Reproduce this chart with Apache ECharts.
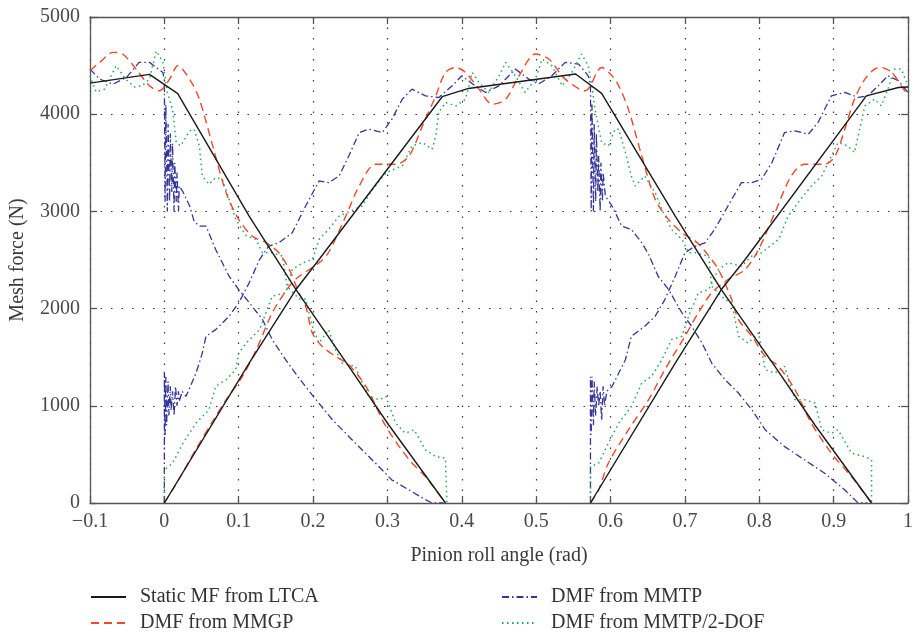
<!DOCTYPE html>
<html>
<head>
<meta charset="utf-8">
<script src="https://cdn.jsdelivr.net/npm/echarts@6/dist/echarts.min.js"></script>
<style>
html,body{margin:0;padding:0;background:#fff;}
#chart{width:916px;height:633px;}
</style>
</head>
<body>
<div id="chart"></div>
<script>
// ---------- data (x: pinion roll angle rad, y: mesh force N) ----------
const xTicks = [-0.1, 0, 0.1, 0.2, 0.3, 0.4, 0.5, 0.6, 0.7, 0.8, 0.9, 1];
const yTicks = [0, 1000, 2000, 3000, 4000, 5000];

const seriesNames = ['Static MF from LTCA', 'DMF from MMGP', 'DMF from MMTP', 'DMF from MMTP/2-DOF'];

// Static MF from LTCA (three tooth segments)
const staticA = [[-0.1,4320],[-0.02,4410],[0.018,4212],[0.114,2952],[0.177,2196],[0.248,1405],[0.302,800],[0.378,0]];
const staticB = [[0,0],[0.114,1440],[0.177,2196],[0.208,2505],[0.3736,4180],[0.409,4265],[0.553,4413],[0.588,4214],[0.687,2952],[0.749,2196],[0.821,1405],[0.875,800],[0.951,0]];
const staticC = [[0.573,0],[0.687,1440],[0.749,2196],[0.781,2505],[0.944,4189],[0.987,4275],[1.0,4280]];

// DMF from MMGP
const mmgpA = [[-0.1,4447],[-0.087,4533],[-0.069,4636],[-0.056,4619],[-0.038,4464],[-0.020,4292],[-0.007,4241],[0.007,4361],[0.018,4499],[0.034,4361],[0.047,4155],[0.065,3674],[0.083,3193],[0.1,2918],[0.118,2746],[0.137,2677],[0.154,2574],[0.168,2402],[0.181,2162],[0.190,2024],[0.199,1750],[0.212,1612],[0.230,1509],[0.248,1423],[0.271,1199],[0.298,787],[0.329,446],[0.351,271],[0.378,0]];
const mmgpB = [[0,0],[0.02,250],[0.043,560],[0.065,840],[0.083,1062],[0.105,1302],[0.125,1600],[0.145,1956],[0.168,2230],[0.181,2330],[0.208,2471],[0.221,2580],[0.244,2952],[0.262,3261],[0.284,3485],[0.311,3485],[0.329,3570],[0.347,3880],[0.365,4189],[0.378,4430],[0.392,4481],[0.405,4430],[0.423,4258],[0.441,4103],[0.459,4155],[0.477,4395],[0.499,4619],[0.517,4567],[0.539,4361],[0.566,4241],[0.588,4481],[0.602,4395],[0.611,4292],[0.624,4052],[0.642,3570],[0.660,3124],[0.678,2918],[0.696,2780],[0.714,2694],[0.727,2590],[0.745,2402],[0.763,2093],[0.772,1887],[0.790,1715],[0.808,1509],[0.826,1405],[0.848,1165],[0.870,822],[0.897,512],[0.924,271],[0.951,0]];
const mmgpC = [[0.573,0],[0.584,134],[0.597,409],[0.624,753],[0.651,1062],[0.673,1371],[0.700,1715],[0.718,1956],[0.736,2162],[0.758,2299],[0.781,2402],[0.799,2608],[0.821,2987],[0.843,3364],[0.861,3485],[0.888,3485],[0.902,3570],[0.915,3846],[0.928,4155],[0.942,4361],[0.955,4464],[0.964,4481],[0.978,4430],[0.991,4292],[1.0,4189]];

// DMF from MMTP
const mmtpA = [[-0.1,4464],[-0.087,4361],[-0.069,4310],[-0.051,4378],[-0.034,4533],[-0.020,4533],[-0.002,4430],[0.0,4350],[0.001,3100],[0.002,4100],[0.004,3000],[0.005,3900],[0.007,3100],[0.008,3800],[0.010,3200],[0.011,3700],[0.013,3000],[0.014,3500],[0.016,3100],[0.017,3400],[0.019,3000],[0.020,3261],[0.025,3200],[0.034,3055],[0.040,2900],[0.047,2849],[0.056,2849],[0.069,2608],[0.087,2333],[0.1,2196],[0.118,2024],[0.132,1887],[0.145,1681],[0.163,1474],[0.181,1285],[0.199,1110],[0.226,856],[0.257,615],[0.284,409],[0.306,237],[0.329,134],[0.351,34],[0.360,0],[0.375,0]];
const mmtpB = [[0,0],[0,1350],[0.001,700],[0.002,1300],[0.003,800],[0.005,1250],[0.006,900],[0.008,1200],[0.009,950],[0.011,1150],[0.013,900],[0.015,1200],[0.017,1000],[0.019,1150],[0.020,1044],[0.024,1150],[0.029,1096],[0.035,1200],[0.0425,1337],[0.047,1440],[0.051,1543],[0.056,1715],[0.069,1784],[0.087,1921],[0.1,2059],[0.114,2265],[0.128,2505],[0.140,2640],[0.154,2677],[0.172,2780],[0.190,3055],[0.208,3313],[0.221,3296],[0.235,3364],[0.248,3570],[0.262,3811],[0.275,3846],[0.293,3811],[0.306,3949],[0.320,4155],[0.333,4258],[0.351,4189],[0.369,4172],[0.387,4292],[0.400,4395],[0.418,4292],[0.432,4224],[0.450,4292],[0.472,4464],[0.490,4361],[0.503,4310],[0.521,4395],[0.539,4533],[0.557,4516],[0.570,4395],[0.573,4300],[0.574,3000],[0.575,4100],[0.577,3000],[0.578,3900],[0.580,3100],[0.581,3800],[0.583,3200],[0.584,3570],[0.586,3000],[0.587,3500],[0.589,3100],[0.590,3400],[0.593,3158],[0.602,3055],[0.615,2849],[0.628,2815],[0.642,2677],[0.651,2560],[0.664,2333],[0.678,2196],[0.696,1956],[0.709,1818],[0.723,1646],[0.736,1440],[0.754,1268],[0.772,1131],[0.790,959],[0.808,753],[0.834,580],[0.861,443],[0.888,306],[0.915,134],[0.933,0],[0.945,0]];
const mmtpC = [[0.573,0],[0.573,1300],[0.574,700],[0.575,1300],[0.577,800],[0.578,1250],[0.580,900],[0.582,1200],[0.584,993],[0.586,1150],[0.588,850],[0.590,1200],[0.592,1000],[0.595,1150],[0.602,1199],[0.611,1337],[0.620,1474],[0.628,1715],[0.646,1818],[0.660,1921],[0.673,2093],[0.687,2333],[0.700,2574],[0.713,2640],[0.727,2677],[0.740,2815],[0.763,3124],[0.776,3296],[0.790,3296],[0.803,3330],[0.817,3502],[0.834,3811],[0.848,3828],[0.866,3794],[0.879,3915],[0.897,4189],[0.915,4224],[0.933,4172],[0.946,4189],[0.960,4292],[0.973,4395],[0.987,4344],[1.0,4224]];

// DMF from MMTP/2-DOF
const dofA = [[-0.1,4395],[-0.092,4230],[-0.080,4260],[-0.065,4499],[-0.052,4360],[-0.040,4280],[-0.030,4292],[-0.020,4361],[-0.011,4650],[-0.002,4540],[0.004,4224],[0.011,4052],[0.016,3708],[0.022,3674],[0.034,3828],[0.040,3846],[0.047,3674],[0.051,3364],[0.060,3279],[0.069,3348],[0.078,3330],[0.087,3124],[0.096,2918],[0.110,2750],[0.123,2712],[0.132,2574],[0.145,2574],[0.159,2540],[0.165,2230],[0.181,2100],[0.190,2100],[0.199,1818],[0.208,1646],[0.221,1784],[0.230,1577],[0.239,1440],[0.257,1405],[0.262,1302],[0.275,1096],[0.289,1062],[0.298,1096],[0.311,822],[0.324,718],[0.336,753],[0.351,546],[0.365,477],[0.378,460],[0.380,0]];
const dofB = [[0,0],[0,340],[0.011,409],[0.025,615],[0.0425,822],[0.060,959],[0.069,1199],[0.083,1268],[0.096,1371],[0.100,1543],[0.110,1646],[0.128,1784],[0.145,2127],[0.163,2162],[0.172,2402],[0.186,2471],[0.199,2505],[0.208,2712],[0.221,2815],[0.235,2952],[0.266,3055],[0.280,3227],[0.298,3399],[0.320,3468],[0.333,3674],[0.347,3708],[0.360,3639],[0.365,3777],[0.369,4018],[0.378,4121],[0.392,4086],[0.405,4155],[0.414,4430],[0.423,4327],[0.436,4224],[0.450,4395],[0.459,4533],[0.472,4395],[0.485,4224],[0.499,4361],[0.508,4567],[0.521,4499],[0.535,4292],[0.548,4430],[0.561,4619],[0.570,4499],[0.575,4292],[0.579,4052],[0.588,3708],[0.597,3674],[0.606,3846],[0.611,3846],[0.620,3605],[0.628,3364],[0.633,3261],[0.646,3364],[0.660,3193],[0.669,3021],[0.682,2815],[0.696,2712],[0.705,2574],[0.714,2574],[0.732,2540],[0.736,2230],[0.754,2093],[0.763,2059],[0.772,1715],[0.785,1646],[0.799,1750],[0.808,1371],[0.821,1337],[0.834,1405],[0.848,1062],[0.861,1062],[0.875,1028],[0.884,753],[0.897,718],[0.906,753],[0.924,512],[0.942,477],[0.951,443],[0.951,0]];
const dofC = [[0.573,0],[0.573,374],[0.584,409],[0.597,615],[0.611,822],[0.628,993],[0.642,1234],[0.655,1302],[0.669,1474],[0.682,1681],[0.696,1715],[0.705,1921],[0.718,2162],[0.732,2196],[0.745,2402],[0.758,2471],[0.776,2437],[0.790,2540],[0.803,2574],[0.826,2712],[0.839,2952],[0.852,3090],[0.870,3261],[0.884,3364],[0.897,3570],[0.906,3708],[0.919,3674],[0.928,3605],[0.937,3915],[0.942,4086],[0.955,4155],[0.964,4086],[0.973,4258],[0.982,4464],[0.991,4464],[1.0,4292]];

// ---------- styles ----------
const FONT = 'Liberation Serif, DejaVu Serif, serif';
const styles = {
  'Static MF from LTCA': {color: '#1a1a1a', type: 'solid', width: 1.4},
  'DMF from MMGP': {color: '#f04828', type: [8, 5], width: 1.4},
  'DMF from MMTP': {color: '#35359c', type: [7, 3, 1.5, 3], width: 1.3},
  'DMF from MMTP/2-DOF': {color: '#1fa85a', type: [1.5, 3.5], width: 1.5}
};

function mk(name, data, smooth) {
  const s = styles[name];
  return {
    name: name, type: 'line', data: data, symbol: 'none', showSymbol: false,
    smooth: smooth || false, xAxisIndex: 0, yAxisIndex: 0,
    lineStyle: {color: s.color, type: s.type, width: s.width},
    itemStyle: {color: s.color},
    emphasis: {disabled: true}, silent: true
  };
}

const fmtX = v => {
  const r = Math.round(v * 10) / 10;
  return (r < 0 ? '\u2212' : '') + String(Math.abs(r));
};

const axisLineStyle = {color: '#555', width: 1.3};
const gridDots = {color: '#333', type: [1.5, 9], width: 1.2};

const legendBase = {
  orient: 'vertical', top: 586, height: 60, padding: 0,
  itemWidth: 35, itemHeight: 14, itemGap: 4,
  textStyle: {fontFamily: FONT, fontSize: 20, lineHeight: 22, color: '#333', padding: [0, 0, 0, 9]},
  itemStyle: {opacity: 0, color: 'transparent', borderWidth: 0},
  selectedMode: false
};

const chart = echarts.init(document.getElementById('chart'), null, {renderer: 'canvas'});
chart.setOption({
  animation: false,
  backgroundColor: '#fff',
  grid: {left: 90, right: 5, top: 17, bottom: 130, containLabel: false},
  xAxis: [{
    type: 'value', min: xTicks[0], max: xTicks[xTicks.length - 1], interval: 0.1,
    position: 'bottom',
    name: 'Pinion roll angle (rad)', nameLocation: 'middle', nameGap: 43,
    nameTextStyle: {fontFamily: FONT, fontSize: 20, color: '#3a3a3a'},
    axisLine: {show: true, onZero: false, lineStyle: axisLineStyle},
    axisTick: {show: true, inside: true, length: 7, lineStyle: axisLineStyle},
    axisLabel: {fontFamily: FONT, fontSize: 20, color: '#4a4a4a', margin: 9, formatter: fmtX, showMinLabel: true, showMaxLabel: true},
    splitLine: {show: true, lineStyle: gridDots}
  }, {
    type: 'value', min: xTicks[0], max: xTicks[xTicks.length - 1], interval: 0.1,
    position: 'top',
    axisLine: {show: true, onZero: false, lineStyle: axisLineStyle},
    axisTick: {show: true, inside: true, length: 7, lineStyle: axisLineStyle},
    axisLabel: {show: false}, splitLine: {show: false}
  }],
  yAxis: [{
    type: 'value', min: yTicks[0], max: yTicks[yTicks.length - 1], interval: 1000,
    position: 'left',
    name: 'Mesh force (N)', nameLocation: 'middle', nameGap: 62,
    nameTextStyle: {fontFamily: FONT, fontSize: 20, color: '#3a3a3a'},
    axisLine: {show: true, onZero: false, lineStyle: axisLineStyle},
    axisTick: {show: true, inside: true, length: 7, lineStyle: axisLineStyle},
    axisLabel: {fontFamily: FONT, fontSize: 20, color: '#4a4a4a', margin: 10, formatter: v => String(v)},
    splitLine: {show: true, lineStyle: gridDots}
  }, {
    type: 'value', min: yTicks[0], max: yTicks[yTicks.length - 1], interval: 1000,
    position: 'right',
    axisLine: {show: true, onZero: false, lineStyle: axisLineStyle},
    axisTick: {show: true, inside: true, length: 7, lineStyle: axisLineStyle},
    axisLabel: {show: false}, splitLine: {show: false}
  }],
  legend: [
    Object.assign({}, legendBase, {left: 90, data: [seriesNames[0], seriesNames[1]]}),
    Object.assign({}, legendBase, {left: 501, data: [seriesNames[2], seriesNames[3]]})
  ],
  series: [
    mk(seriesNames[2], mmtpA), mk(seriesNames[2], mmtpB), mk(seriesNames[2], mmtpC),
    mk(seriesNames[3], dofA), mk(seriesNames[3], dofB), mk(seriesNames[3], dofC),
    mk(seriesNames[1], mmgpA, 0.3), mk(seriesNames[1], mmgpB, 0.3), mk(seriesNames[1], mmgpC, 0.3),
    mk(seriesNames[0], staticA), mk(seriesNames[0], staticB), mk(seriesNames[0], staticC)
  ]
});
</script>
</body>
</html>
